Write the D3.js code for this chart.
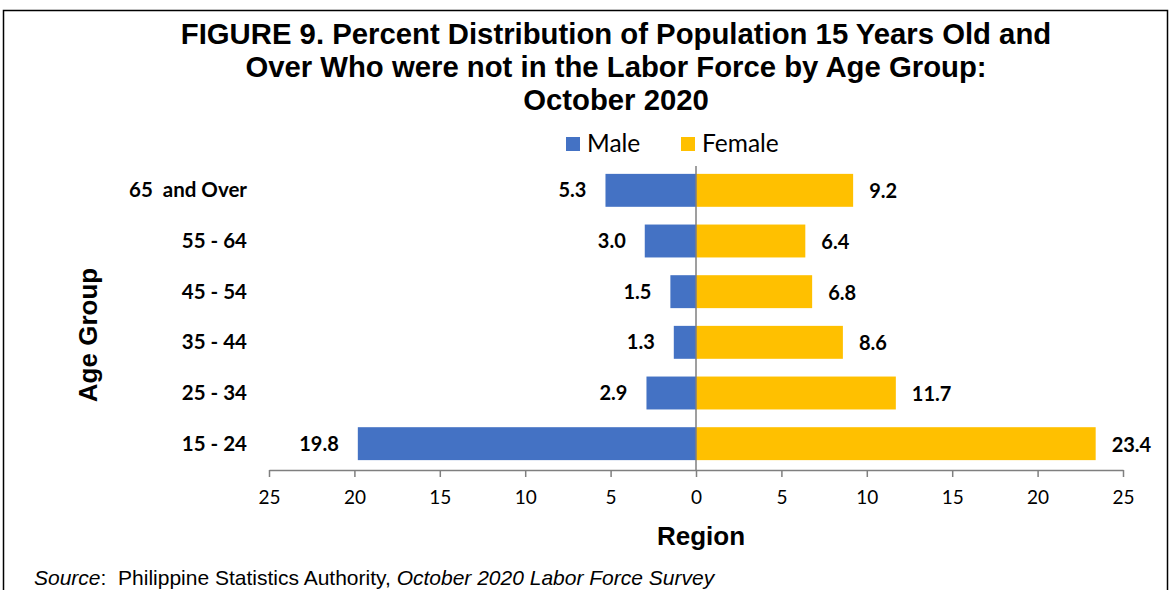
<!DOCTYPE html>
<html>
<head>
<meta charset="utf-8">
<script src="https://cdn.jsdelivr.net/npm/d3@7"></script>
<style>
  body { margin: 0; background: #fff; }
  svg text { fill: #000; }
</style>
</head>
<body>
<div id="chart"></div>
<script>
// age groups, top to bottom
const ageGroups = ['65  and Over', '55 - 64', '45 - 54', '35 - 44', '25 - 34', '15 - 24'];
const maleValues = [5.3, 3.0, 1.5, 1.3, 2.9, 19.8];
const femaleValues = [9.2, 6.4, 6.8, 8.6, 11.7, 23.4];
const tickValues = [-25, -20, -15, -10, -5, 0, 5, 10, 15, 20, 25];
const seriesNames = ['Male', 'Female'];
const titleLines = [
    'FIGURE 9. Percent Distribution of Population 15 Years Old and',
    'Over Who were not in the Labor Force by Age Group:',
    'October 2020'
];

const width = 1170, height = 590;
const colors = { Male: '#4472C4', Female: '#FFC000' };
const labelFont = 'Lato, "Open Sans", sans-serif';
const headFont = '"Liberation Sans", Arial, sans-serif';

const svg = d3.select('#chart').append('svg')
    .attr('width', width)
    .attr('height', height);

// outer frame
svg.append('rect')
    .attr('x', 3.5).attr('y', 10.5)
    .attr('width', 1164).attr('height', 600)
    .attr('fill', 'none')
    .attr('stroke', '#000')
    .attr('stroke-width', 1.5);

// title
svg.append('g').selectAll('text')
    .data(titleLines)
    .join('text')
    .attr('x', 616)
    .attr('y', (d, i) => 44 + i * 33)
    .attr('text-anchor', 'middle')
    .attr('font-family', headFont)
    .attr('font-weight', 'bold')
    .attr('font-size', '29.3px')
    .text(d => d);

// scales
const x = d3.scaleLinear().domain([-25, 25]).range([269, 1123]);
const y = d3.scaleBand().domain(ageGroups).range([165, 469]).paddingInner(0.35).paddingOuter(0.175);

// legend
const legend = svg.append('g');
const legendX = { Male: 566, Female: 681 };
seriesNames.forEach(name => {
    legend.append('rect')
        .attr('x', legendX[name]).attr('y', 137)
        .attr('width', 14).attr('height', 14)
        .attr('fill', colors[name]);
    legend.append('text')
        .attr('x', legendX[name] + 21).attr('y', 152)
        .attr('font-family', labelFont)
        .attr('font-size', '24.5px')
        .text(name);
});

// bars
const rows = ageGroups.map((g, i) => ({ group: g, male: maleValues[i], female: femaleValues[i] }));

svg.append('g').selectAll('rect')
    .data(rows)
    .join('rect')
    .attr('x', d => x(-d.male))
    .attr('y', d => y(d.group))
    .attr('width', d => x(0) - x(-d.male))
    .attr('height', y.bandwidth())
    .attr('fill', colors.Male);

svg.append('g').selectAll('rect')
    .data(rows)
    .join('rect')
    .attr('x', x(0))
    .attr('y', d => y(d.group))
    .attr('width', d => x(d.female) - x(0))
    .attr('height', y.bandwidth())
    .attr('fill', colors.Female);

// data labels
svg.append('g').selectAll('text')
    .data(rows)
    .join('text')
    .attr('x', d => x(-d.male) - 19)
    .attr('y', d => y(d.group) + y.bandwidth() / 2 + 7)
    .attr('text-anchor', 'end')
    .attr('font-family', labelFont)
    .attr('font-weight', 'bold')
    .attr('font-size', '20px')
    .text(d => d.male.toFixed(1));

svg.append('g').selectAll('text')
    .data(rows)
    .join('text')
    .attr('x', d => x(d.female) + 16)
    .attr('y', d => y(d.group) + y.bandwidth() / 2 + 8)
    .attr('text-anchor', 'start')
    .attr('font-family', labelFont)
    .attr('font-weight', 'bold')
    .attr('font-size', '20px')
    .text(d => d.female.toFixed(1));

// zero line
svg.append('line')
    .attr('x1', x(0)).attr('x2', x(0))
    .attr('y1', 166).attr('y2', 470)
    .attr('stroke', '#7f7f7f')
    .attr('stroke-width', 1.5);

// x axis
const xAxis = svg.append('g')
    .attr('transform', 'translate(0,470)')
    .call(d3.axisBottom(x).tickValues(tickValues).tickSize(7).tickSizeOuter(0).tickPadding(14)
        .tickFormat(d => Math.abs(d)));
xAxis.select('.domain').attr('stroke', '#7f7f7f').attr('stroke-width', 1.5);
xAxis.selectAll('.tick line').attr('stroke', '#7f7f7f').attr('stroke-width', 1.5);
xAxis.selectAll('.tick text')
    .attr('font-family', labelFont)
    .attr('font-size', '19px')
    .attr('fill', '#000');

// category labels
svg.append('g').selectAll('text')
    .data(ageGroups)
    .join('text')
    .attr('x', 247)
    .attr('y', d => y(d) + y.bandwidth() / 2 + 7)
    .attr('text-anchor', 'end')
    .attr('font-family', labelFont)
    .attr('font-weight', 'bold')
    .attr('font-size', '20.5px')
    .style('white-space', 'pre')
    .text(d => d);

// axis titles
svg.append('text')
    .attr('transform', 'translate(97,335) rotate(-90)')
    .attr('text-anchor', 'middle')
    .attr('font-family', headFont)
    .attr('font-weight', 'bold')
    .attr('font-size', '26px')
    .text('Age Group');

svg.append('text')
    .attr('x', 701).attr('y', 545)
    .attr('text-anchor', 'middle')
    .attr('font-family', headFont)
    .attr('font-weight', 'bold')
    .attr('font-size', '26px')
    .text('Region');

// source note
const src = svg.append('text')
    .attr('x', 34).attr('y', 585)
    .attr('font-family', headFont)
    .attr('font-size', '21px')
    .style('white-space', 'pre');
src.append('tspan').attr('font-style', 'italic').text('Source');
src.append('tspan').text(':  Philippine Statistics Authority, ');
src.append('tspan').attr('font-style', 'italic').text('October 2020 Labor Force Survey');
</script>
</body>
</html>
